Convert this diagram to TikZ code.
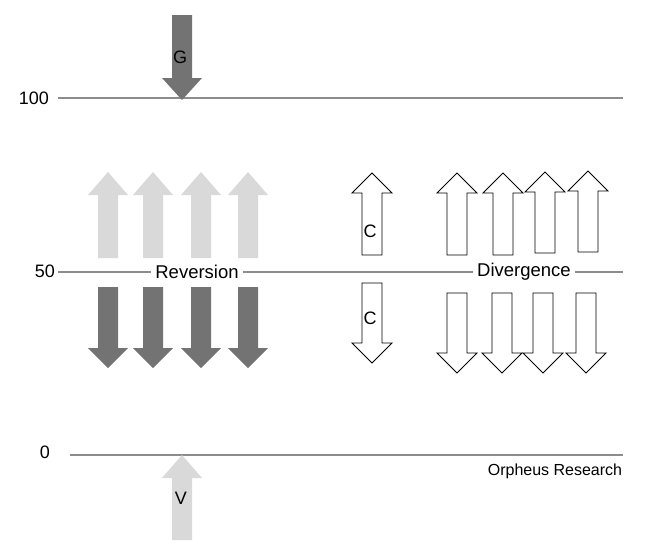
\documentclass[tikz,border=0pt]{standalone}
\usepackage{fontspec}
\setmainfont{Liberation Sans}
\begin{document}
\begin{tikzpicture}[x=1pt,y=-1pt,
  light/.style={fill=black!15,draw=none},
  dark/.style={fill=black!55,draw=none},
  hollow/.style={fill=white,draw=black,line width=0.8pt},
  level/.style={draw=black!45,line width=1.5pt},
  lbl/.style={font=\fontsize{18}{20}\selectfont},
  cut/.style={fill=white,inner sep=4pt,font=\fontsize{18.5}{20}\selectfont}]
\useasboundingbox (0,0) rectangle (651,554);
\def\uparr#1#2#3#4#5{\path[#1] (#2-10,#5) -- (#2-10,#4) -- (#2-20,#4) -- (#2,#3) -- (#2+20,#4) -- (#2+10,#4) -- (#2+10,#5) -- cycle;}
\def\dnarr#1#2#3#4#5{\path[#1] (#2-10,#3) -- (#2-10,#4) -- (#2-20,#4) -- (#2,#5) -- (#2+20,#4) -- (#2+10,#4) -- (#2+10,#3) -- cycle;}
% levels
\draw[level] (58,98) -- (623,98);
\draw[level] (58,272) -- (623,272);
\draw[level] (70,455) -- (623,455);
\node[lbl] (l100) at (34,98) {100};
\node[lbl] (l50) at (45,271) {50};
\node[lbl] (l0) at (45,452) {0};
\node[cut] (rev) at (197,272) {Reversion};
\node[cut] (div) at (524,272) {Divergence};
\node[font=\fontsize{16}{18}\selectfont] (orph) at (555,471) {Orpheus Research};
% G and V
\dnarr{dark}{182}{15}{78}{100}
\node[lbl] (G) at (180,57) {G};
\uparr{light}{182}{455}{478}{540}
\node[lbl] (V) at (181,498) {V};
% reversion
\foreach \c in {108,153,201,248}{
  \uparr{light}{\c}{172}{195}{258}
  \dnarr{dark}{\c}{287}{348}{368}
}
% C
\uparr{hollow}{372}{173}{193}{255}
\node[lbl] (C1) at (370,231) {C};
\dnarr{hollow}{372}{283}{343}{363}
\node[lbl] (C2) at (370,318) {C};
% divergence
\uparr{hollow}{457}{173}{193}{255}
\uparr{hollow}{503}{173}{193}{255}
\uparr{hollow}{545}{172}{192}{253}
\uparr{hollow}{588}{171}{191}{252}
\dnarr{hollow}{586}{293}{353}{373}
\dnarr{hollow}{543}{293}{353}{373}
\dnarr{hollow}{502}{293}{353}{373}
\dnarr{hollow}{457}{293}{353}{373}
\end{tikzpicture}
\end{document}
